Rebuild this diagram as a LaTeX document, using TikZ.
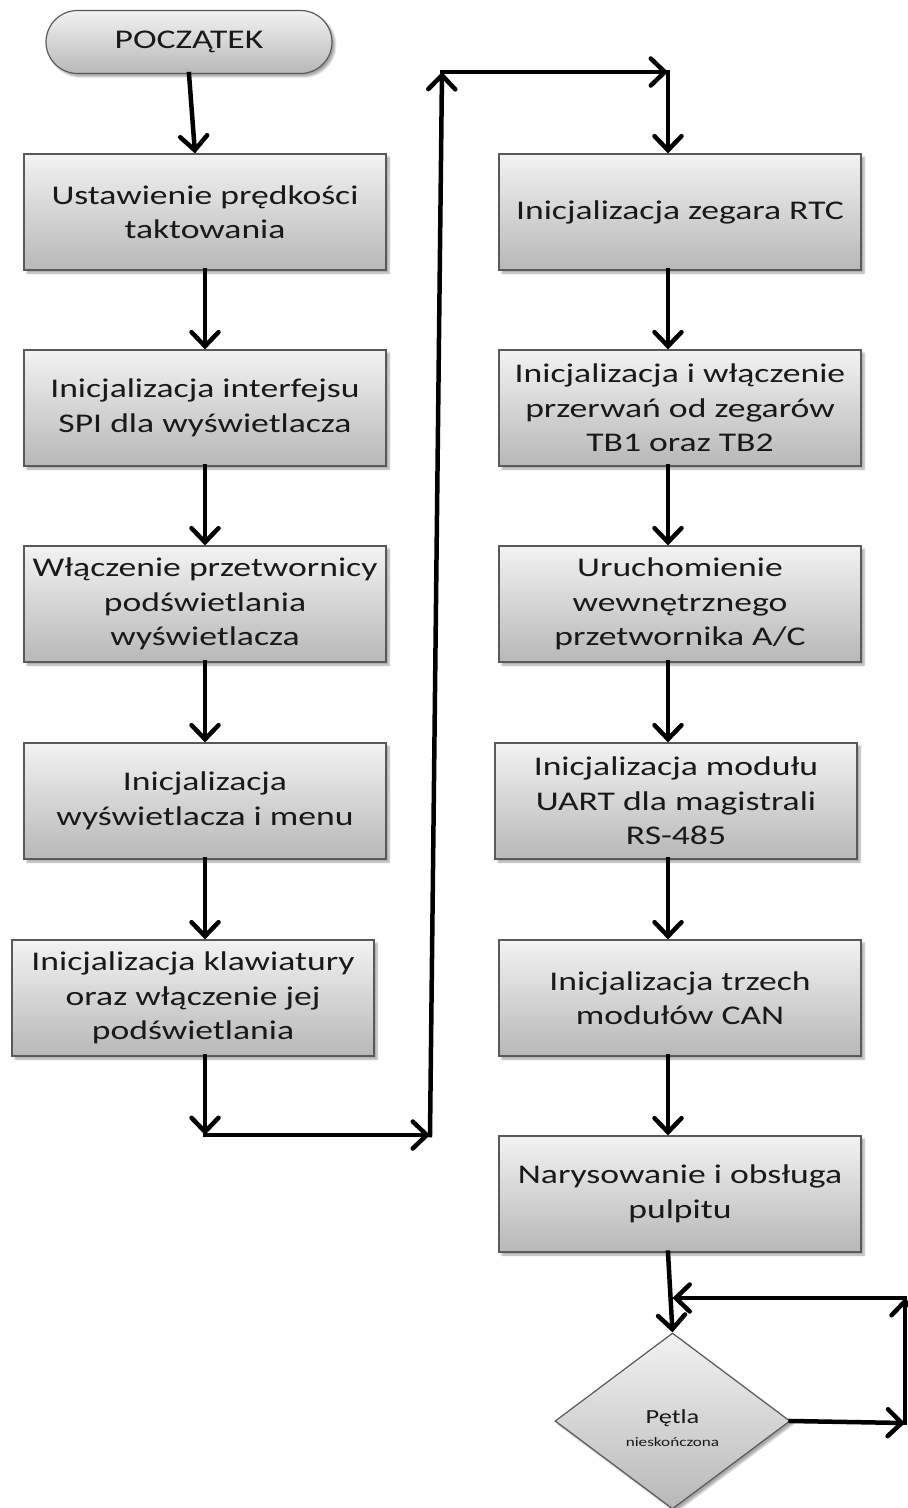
\documentclass[tikz,border=0pt]{standalone}
\usepackage{fontspec}
\setmainfont{Carlito}[FakeStretch=1.32]
\usetikzlibrary{arrows.meta,shapes.geometric,shapes.misc,shadows.blur}

\tikzset{
  boxshade/.style={draw=black!65, line width=1.2pt, top color=black!5, bottom color=black!28,
    blur shadow={shadow xshift=3pt, shadow yshift=-3pt, shadow blur steps=6, shadow opacity=35}},
  proc/.style={boxshade, rectangle, minimum width=362pt, minimum height=116pt, inner sep=0pt,
    align=center, text=black!90, font=\fontsize{27}{34.5}\selectfont},
  term/.style={boxshade, rounded rectangle, minimum width=286pt, minimum height=63pt, inner sep=0pt,
    text=black!90, font=\fontsize{27}{32}\selectfont},
  decision/.style={boxshade, diamond, aspect=1.335, minimum width=235pt, minimum height=176pt,
    inner sep=0pt, align=center, text=black!90, font=\fontsize{20}{23}\selectfont},
  flow/.style={line width=4.5pt, line cap=rect, -{Straight Barb[length=14pt,width=27pt,line cap=round]}},
}

\begin{document}
\begin{tikzpicture}[x=1pt,y=-1pt]
\useasboundingbox (0,0) rectangle (908,1508);

% left column
\node[term] (start) at (189,42) {POCZĄTEK};
\node[proc] (L1) at (205,212) {Ustawienie prędkości\\taktowania};
\node[proc] (L2) at (205,408) {Inicjalizacja interfejsu\\SPI dla wyświetlacza};
\node[proc] (L3) at (205,604) {Włączenie przetwornicy\\podświetlania\\wyświetlacza};
\node[proc] (L4) at (205,801) {Inicjalizacja\\wyświetlacza i menu};
\node[proc] (L5) at (193,998) {Inicjalizacja klawiatury\\oraz włączenie jej\\podświetlania};

% right column
\node[proc] (R1) at (680,212) {Inicjalizacja zegara RTC};
\node[proc] (R2) at (680,408) {Inicjalizacja i włączenie\\przerwań od zegarów\\TB1 oraz TB2};
\node[proc] (R3) at (680,604) {Uruchomienie\\wewnętrznego\\przetwornika A/C};
\node[proc] (R4) at (676,801) {Inicjalizacja modułu\\UART dla magistrali\\RS-485};
\node[proc] (R5) at (680,998) {Inicjalizacja trzech\\modułów CAN};
\node[proc] (R6) at (680,1194) {Narysowanie i obsługa\\pulpitu};
\node[decision] (D) at (672.5,1421) {\rule{0pt}{29pt}Pętla\\{\fontsize{13}{15}\selectfont nieskończona}};

% routing points
\coordinate (lc) at (205,0);
\coordinate (rc) at (668,0);
\coordinate (c1) at (205,1135);
\coordinate (c2) at (430,1135);
\coordinate (c3) at (442,72);
\coordinate (c4) at (668,72);
\coordinate (d1) at (905,1423);
\coordinate (d2) at (905,1298);

% left column connectors
\draw[flow] (start.south) -- ([xshift=6pt]start.south |- L1.north);
\draw[flow] (L1) -- (L2);
\draw[flow] (L2) -- (L3);
\draw[flow] (L3) -- (L4);
\draw[flow] (L4.south) -- (L4.south |- L5.north);
\draw[flow] (L5.south -| lc) -- (c1);
\draw[flow] (c1) -- (c2);
\draw[flow] (c2) -- (c3);
\draw[flow] (c3) -- (c4);
\draw[flow] (c4) -- (c4 |- R1.north);

% right column connectors
\draw[flow] (R1.south -| rc) -- (R2.north -| rc);
\draw[flow] (R2.south -| rc) -- (R3.north -| rc);
\draw[flow] (R3.south -| rc) -- (R4.north -| rc);
\draw[flow] (R4.south -| rc) -- (R5.north -| rc);
\draw[flow] (R5.south -| rc) -- (R6.north -| rc);
\draw[flow] (R6.south -| rc) -- (D.north);

% endless loop
\draw[flow] (D.east) -- (d1);
\draw[flow] (d1) -- (d2);
\draw[flow] (d2) -- (d2 -| D.north);
\end{tikzpicture}
\end{document}
